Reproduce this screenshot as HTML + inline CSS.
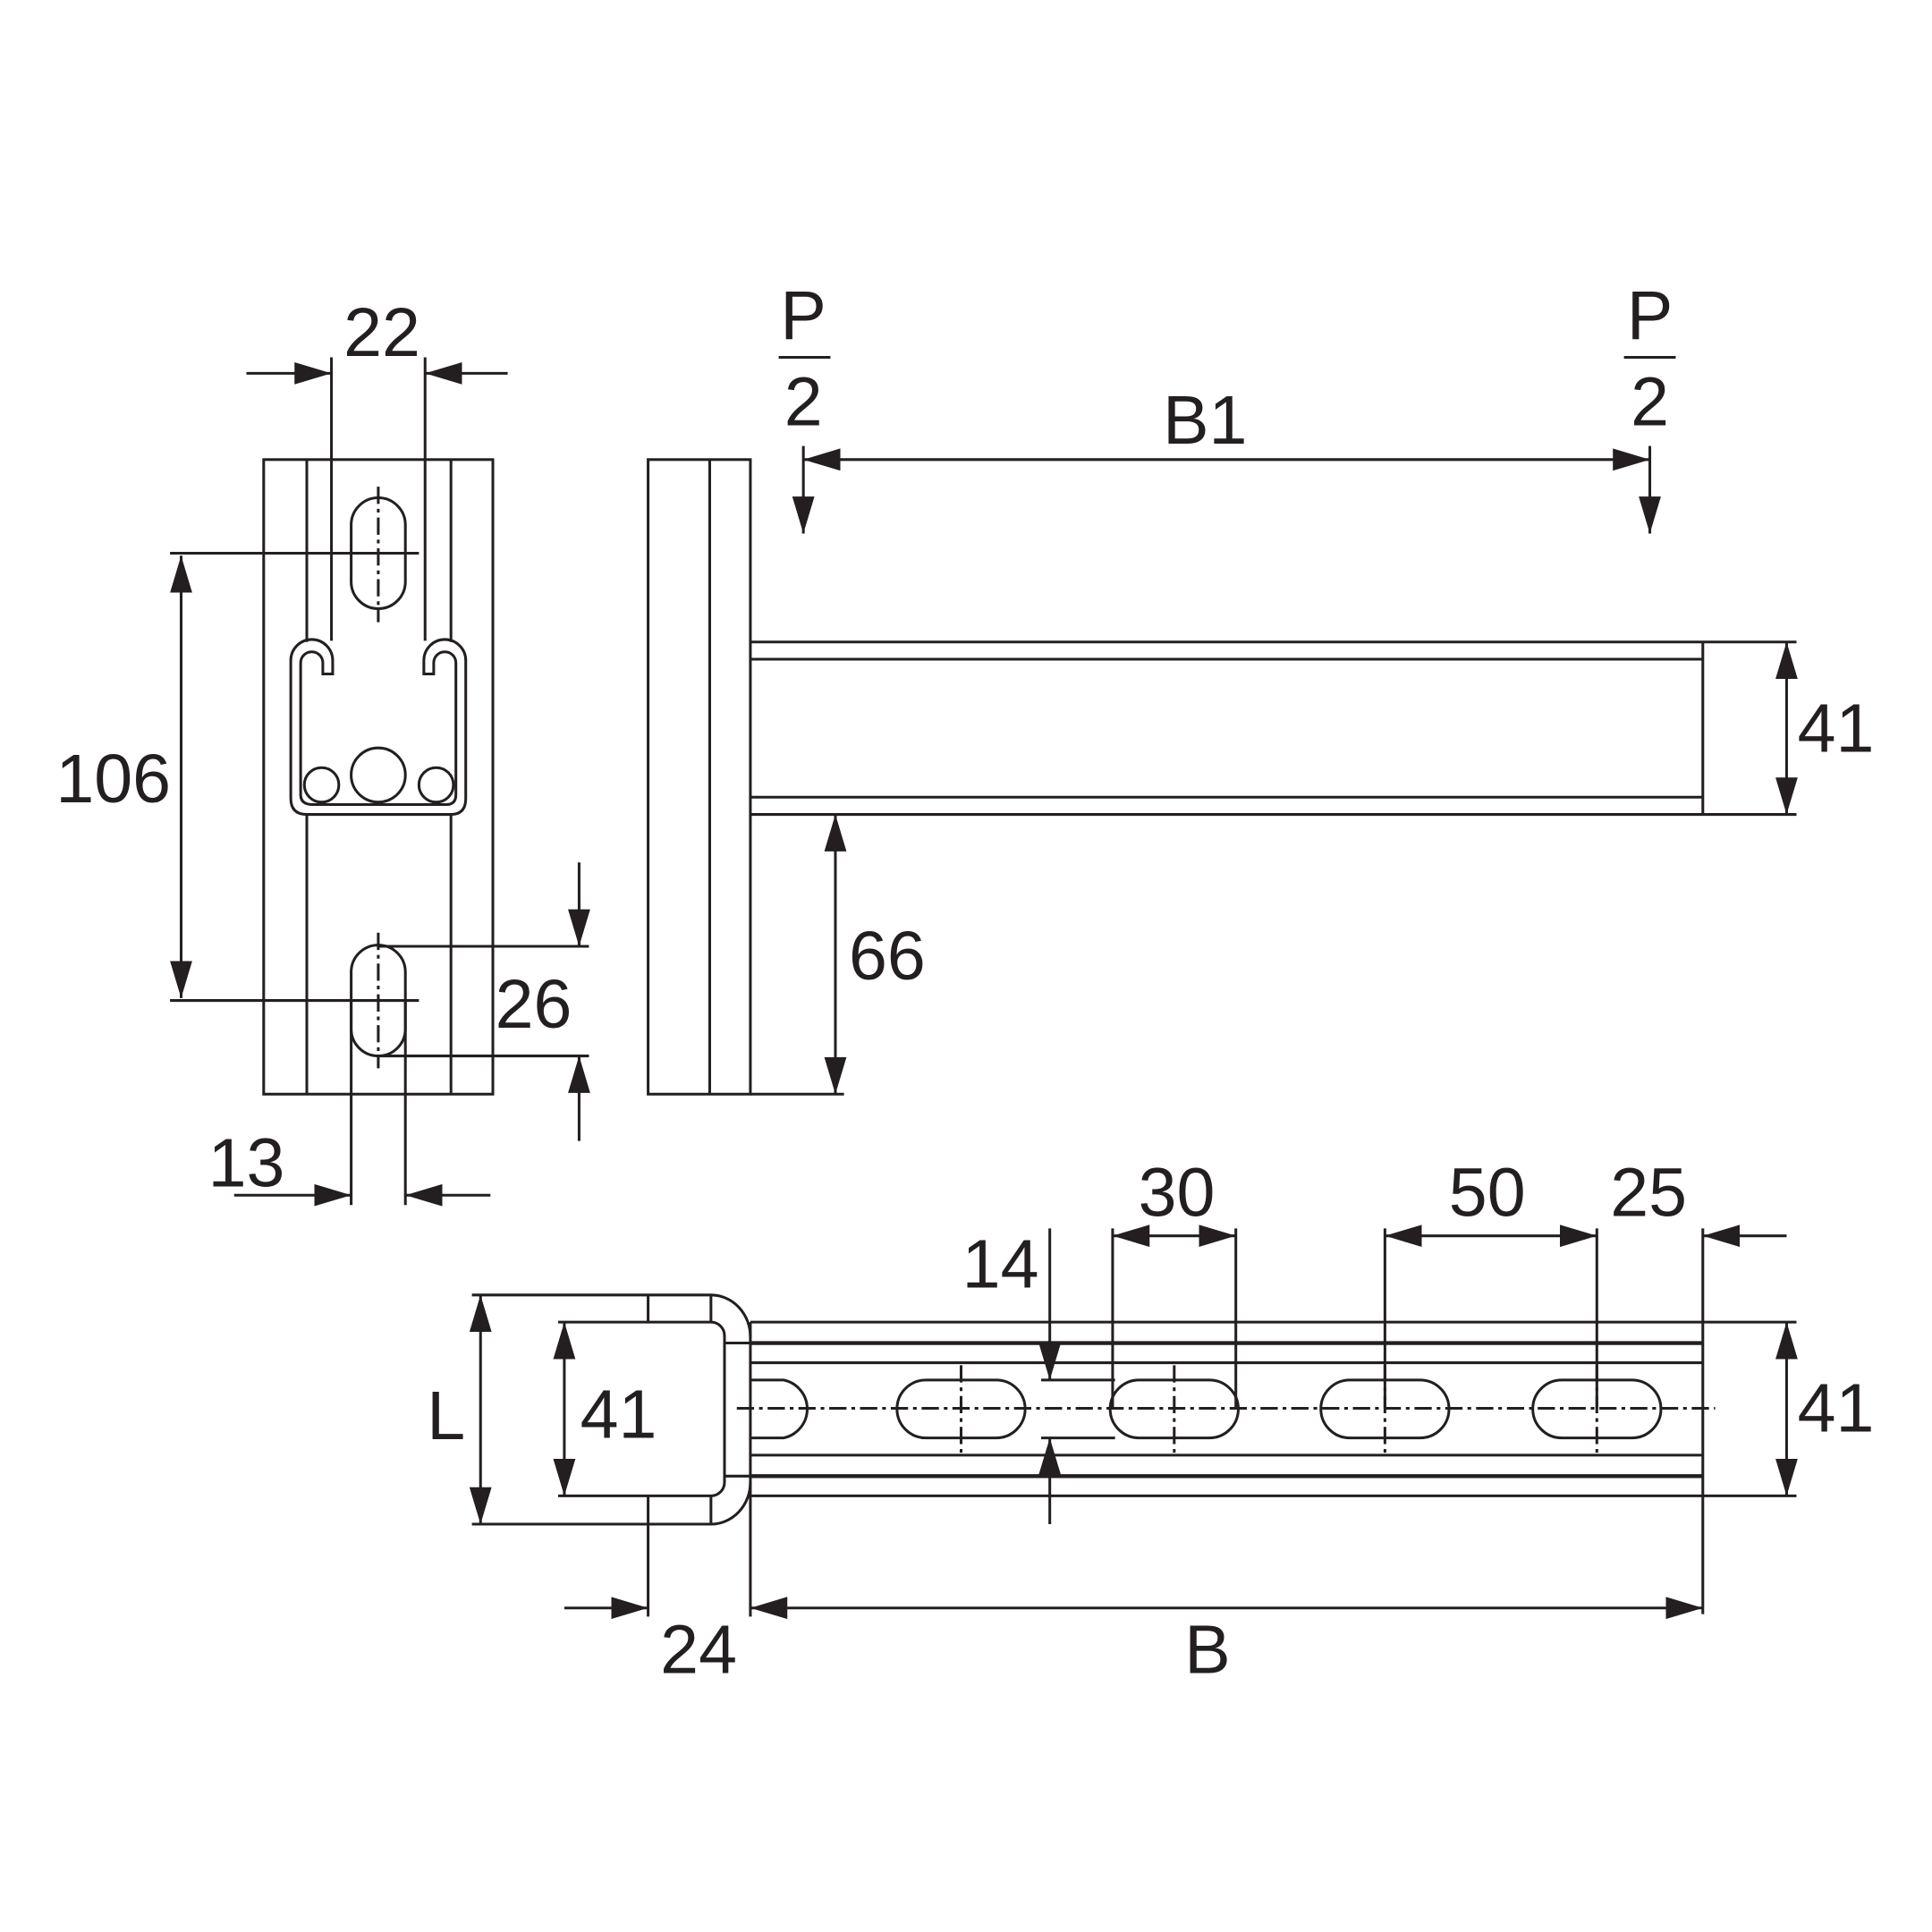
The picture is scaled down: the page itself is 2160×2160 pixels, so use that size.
<!DOCTYPE html>
<html><head><meta charset="utf-8"><style>
html,body{margin:0;padding:0;background:#fff}
svg{display:block}
text{font-family:"Liberation Sans",Arial,sans-serif;font-size:56px;fill:#231f20}
</style></head><body>
<svg width="2160" height="2160" viewBox="0 0 1568 1568" xmlns="http://www.w3.org/2000/svg">
<defs>
<marker id="a" markerUnits="userSpaceOnUse" markerWidth="32" markerHeight="20" refX="30" refY="9" orient="auto-start-reverse">
<path d="M0,0 L30,9 L0,18 Z" fill="#231f20"/>
</marker>
</defs>
<g stroke="#231f20" stroke-width="2.2" fill="none">
<!-- LEFT VIEW -->
<rect x="214" y="373" width="186" height="515"/>
<line x1="249" y1="373" x2="249" y2="521"/><line x1="249" y1="661" x2="249" y2="888"/>
<line x1="366" y1="373" x2="366" y2="521"/><line x1="366" y1="661" x2="366" y2="888"/>
<path d="M270,547 L270,536 A17,17 0 0 0 236,536 L236,648 Q236,661 249,661 L366,661 Q378,661 378,648 L378,536 A17,17 0 0 0 344,536 L344,547 L352,547 L352,538 A9,9 0 0 1 370,538 L370,645 Q370,653 362,653 L254,653 Q244,653 244,645 L244,538 A9,9 0 0 1 262,538 L262,547 Z"/>
<circle cx="307" cy="629" r="22"/>
<circle cx="261" cy="637" r="14"/>
<circle cx="354" cy="637" r="14"/>
<rect x="285" y="404" width="44" height="90" rx="22"/>
<rect x="285" y="767" width="44" height="90" rx="22"/>
<line x1="307" y1="395" x2="307" y2="505" stroke-dasharray="14 4 3 4"/>
<line x1="307" y1="757" x2="307" y2="867" stroke-dasharray="14 4 3 4"/>
<line x1="138" y1="449" x2="340" y2="449"/>
<line x1="138" y1="812" x2="340" y2="812"/>
<line x1="147" y1="451" x2="147" y2="810" marker-start="url(#a)" marker-end="url(#a)"/>
<line x1="269" y1="290" x2="269" y2="520"/><line x1="345" y1="290" x2="345" y2="520"/>
<line x1="200" y1="303" x2="269" y2="303" marker-end="url(#a)"/>
<line x1="412" y1="303" x2="345" y2="303" marker-end="url(#a)"/>
<line x1="307" y1="768" x2="478" y2="768"/><line x1="307" y1="857" x2="478" y2="857"/>
<line x1="470" y1="700" x2="470" y2="768" marker-end="url(#a)"/>
<line x1="470" y1="926" x2="470" y2="857" marker-end="url(#a)"/>
<line x1="285" y1="812" x2="285" y2="978"/><line x1="329" y1="812" x2="329" y2="978"/>
<line x1="190" y1="970" x2="285" y2="970" marker-end="url(#a)"/>
<line x1="398" y1="970" x2="329" y2="970" marker-end="url(#a)"/>
<!-- MIDDLE VIEW -->
<rect x="526" y="373" width="83" height="515"/>
<line x1="576" y1="373" x2="576" y2="888"/>
<line x1="609" y1="521" x2="1458" y2="521"/>
<line x1="609" y1="661" x2="1458" y2="661"/>
<line x1="609" y1="535" x2="1382" y2="535"/>
<line x1="609" y1="647" x2="1382" y2="647"/>
<line x1="1382" y1="521" x2="1382" y2="661"/>
<line x1="1450" y1="521" x2="1450" y2="661" marker-start="url(#a)" marker-end="url(#a)"/>
<line x1="609" y1="888" x2="685" y2="888"/>
<line x1="678" y1="661" x2="678" y2="888" marker-start="url(#a)" marker-end="url(#a)"/>
<line x1="632" y1="290" x2="674" y2="290"/>
<line x1="1318" y1="290" x2="1360" y2="290"/>
<line x1="652" y1="362" x2="652" y2="433" marker-end="url(#a)"/>
<line x1="1339" y1="362" x2="1339" y2="433" marker-end="url(#a)"/>
<line x1="652" y1="373" x2="1339" y2="373" marker-start="url(#a)" marker-end="url(#a)"/>
<!-- BOTTOM VIEW -->
<line x1="609" y1="1073" x2="1458" y2="1073"/>
<line x1="609" y1="1090" x2="1382" y2="1090" stroke-width="3.2"/>
<line x1="609" y1="1106" x2="1382" y2="1106"/>
<line x1="609" y1="1181" x2="1382" y2="1181"/>
<line x1="609" y1="1198" x2="1382" y2="1198" stroke-width="3.2"/>
<line x1="609" y1="1214" x2="1458" y2="1214"/>
<line x1="1382" y1="997" x2="1382" y2="1310"/>
<line x1="1450" y1="1073" x2="1450" y2="1214" marker-start="url(#a)" marker-end="url(#a)"/>
<path d="M609,1120 L636,1120 A24,24 0 0 1 636,1167 L609,1167"/>
<rect x="728" y="1120" width="104" height="47" rx="23.5"/>
<rect x="901" y="1120" width="104" height="47" rx="23.5"/>
<rect x="1072" y="1120" width="104" height="47" rx="23.5"/>
<rect x="1244" y="1120" width="104" height="47" rx="23.5"/>
<line x1="598" y1="1143" x2="1392" y2="1143" stroke-dasharray="14 4 3 4"/>
<line x1="780" y1="1108" x2="780" y2="1180" stroke-dasharray="14 4 3 4"/>
<line x1="953" y1="1108" x2="953" y2="1180" stroke-dasharray="14 4 3 4"/>
<line x1="1124" y1="1108" x2="1124" y2="1180" stroke-dasharray="14 4 3 4"/>
<line x1="1296" y1="1108" x2="1296" y2="1180" stroke-dasharray="14 4 3 4"/>
<line x1="852" y1="997" x2="852" y2="1120" marker-end="url(#a)"/>
<line x1="852" y1="1237" x2="852" y2="1167" marker-end="url(#a)"/>
<line x1="845" y1="1120" x2="905" y2="1120"/><line x1="845" y1="1167" x2="905" y2="1167"/>
<line x1="903" y1="997" x2="903" y2="1143"/><line x1="1003" y1="997" x2="1003" y2="1143"/>
<line x1="1124" y1="997" x2="1124" y2="1143"/><line x1="1296" y1="997" x2="1296" y2="1143"/>
<line x1="903" y1="1003" x2="1003" y2="1003" marker-start="url(#a)" marker-end="url(#a)"/>
<line x1="1124" y1="1003" x2="1296" y2="1003" marker-start="url(#a)" marker-end="url(#a)"/>
<line x1="1450" y1="1003" x2="1382" y2="1003" marker-end="url(#a)"/>
<!-- end plate -->
<path d="M383,1051 L577,1051 A32,34 0 0 1 609,1085"/>
<path d="M383,1237 L577,1237 A32,34 0 0 0 609,1203"/>
<path d="M453,1073 L577,1073 A11,11 0 0 1 588,1084 L588,1203 A11,11 0 0 1 577,1214 L453,1214"/>
<line x1="588" y1="1090" x2="609" y2="1090"/><line x1="588" y1="1198" x2="609" y2="1198"/>
<line x1="526" y1="1051" x2="526" y2="1073"/><line x1="577" y1="1051" x2="577" y2="1073"/>
<line x1="526" y1="1214" x2="526" y2="1312"/><line x1="577" y1="1214" x2="577" y2="1237"/>
<line x1="609" y1="1073" x2="609" y2="1312"/>
<line x1="390" y1="1051" x2="390" y2="1237" marker-start="url(#a)" marker-end="url(#a)"/>
<line x1="458" y1="1073" x2="458" y2="1214" marker-start="url(#a)" marker-end="url(#a)"/>
<line x1="458" y1="1305" x2="526" y2="1305" marker-end="url(#a)"/>
<line x1="609" y1="1305" x2="1382" y2="1305" marker-start="url(#a)" marker-end="url(#a)"/>
</g>
<g>
<text x="310" y="289" text-anchor="middle">22</text>
<text x="92" y="651" text-anchor="middle">106</text>
<text x="433" y="834" text-anchor="middle">26</text>
<text x="200" y="963" text-anchor="middle">13</text>
<text x="652" y="275" text-anchor="middle">P</text>
<text x="652" y="345" text-anchor="middle">2</text>
<text x="1339" y="275" text-anchor="middle">P</text>
<text x="1339" y="345" text-anchor="middle">2</text>
<text x="978" y="360" text-anchor="middle">B1</text>
<text x="1490" y="610" text-anchor="middle">41</text>
<text x="720" y="795" text-anchor="middle">66</text>
<text x="812" y="1045" text-anchor="middle">14</text>
<text x="955" y="987" text-anchor="middle">30</text>
<text x="1207" y="987" text-anchor="middle">50</text>
<text x="1338" y="987" text-anchor="middle">25</text>
<text x="1490" y="1162" text-anchor="middle">41</text>
<text x="362" y="1168" text-anchor="middle">L</text>
<text x="502" y="1167" text-anchor="middle">41</text>
<text x="567" y="1358" text-anchor="middle">24</text>
<text x="980" y="1358" text-anchor="middle">B</text>
</g>
</svg>
</body></html>
